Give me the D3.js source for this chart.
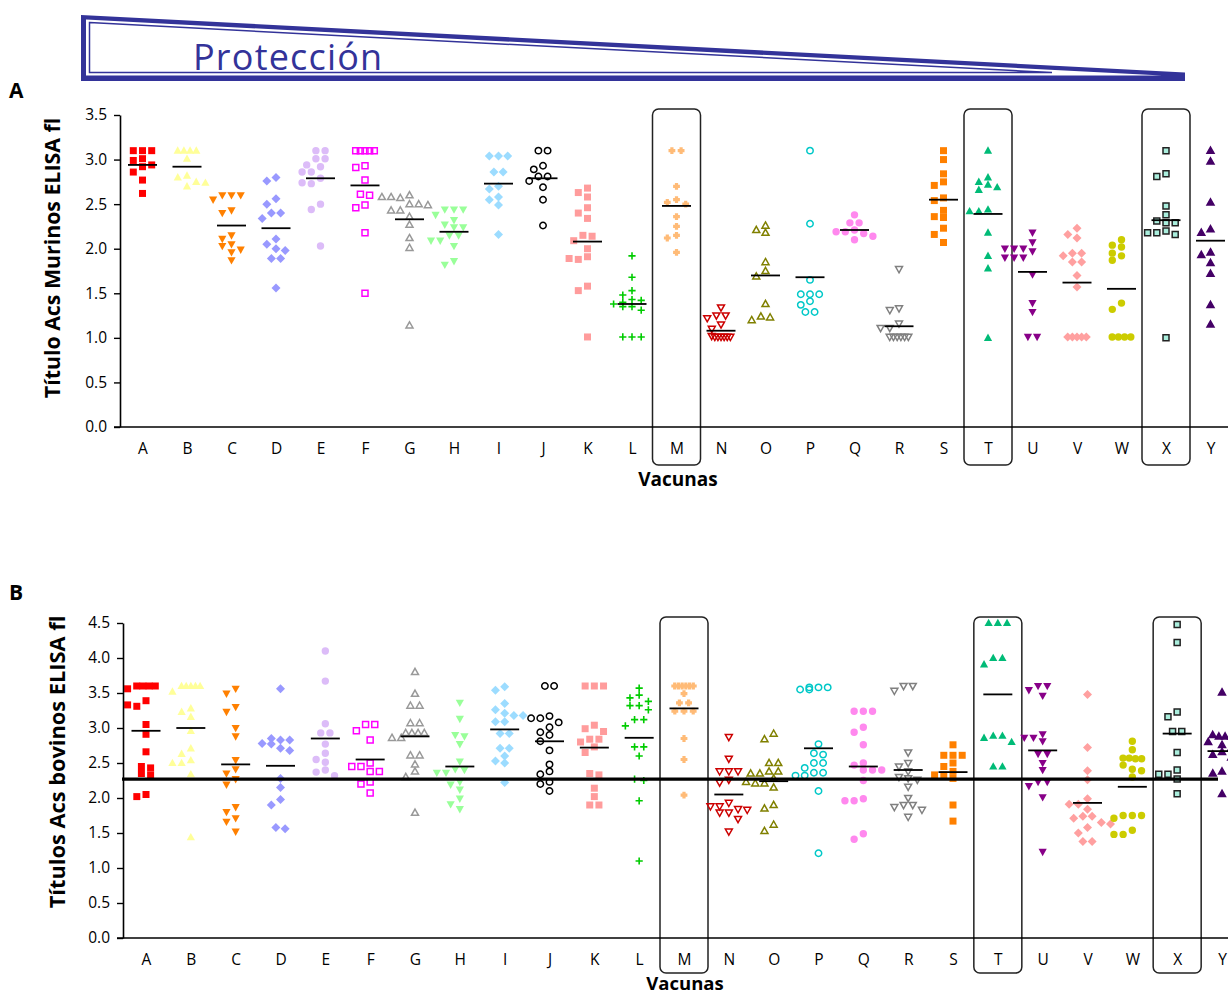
<!DOCTYPE html>
<html>
<head>
<meta charset="utf-8">
<script src="https://cdn.jsdelivr.net/npm/d3@7"></script>
<style>
  body { margin: 0; background: #fff; }
  svg { display: block; }
  text { font-family: "Open Sans", "Noto Sans", sans-serif; }
</style>
</head>
<body>
<svg id="chart" width="1228" height="997"></svg>
<script>
// Vaccine groups along the x axis
const vaccines = "ABCDEFGHIJKLMNOPQRSTUVWXY".split("");
const highlighted = ["M", "T", "X"];

// Panel A: murine antibody titres (ELISA), one array per vaccine
const murineTiters = [
  [3.10,3.10,3.10,3.01,2.99,2.94,2.92,2.86,2.77,2.62],
  [3.10,3.10,3.10,3.10,3.01,2.82,2.80,2.75,2.74,2.70],
  [2.60,2.60,2.60,2.55,2.43,2.40,2.15,2.11,2.05,2.03,1.99,1.96,1.87],
  [2.80,2.76,2.56,2.50,2.40,2.40,2.34,2.11,2.05,2.00,1.98,1.89,1.89,1.56],
  [3.10,3.10,3.01,3.01,2.94,2.92,2.86,2.86,2.79,2.74,2.73,2.50,2.44,2.03],
  [3.10,3.10,3.10,3.10,3.10,2.93,2.91,2.77,2.61,2.60,2.49,2.46,2.18,1.50],
  [2.60,2.58,2.58,2.57,2.50,2.50,2.49,2.43,2.43,2.36,2.27,2.12,2.01,1.14],
  [2.44,2.44,2.44,2.38,2.32,2.27,2.24,2.24,2.15,2.15,2.09,2.09,2.03,1.86,1.82],
  [3.04,3.04,3.04,2.86,2.86,2.70,2.67,2.58,2.55,2.49,2.16],
  [3.10,3.10,2.93,2.89,2.81,2.81,2.76,2.69,2.55,2.26],
  [2.68,2.63,2.58,2.46,2.40,2.34,2.15,2.14,2.09,2.00,1.91,1.89,1.88,1.58,1.53,1.01],
  [1.92,1.68,1.53,1.48,1.43,1.42,1.40,1.38,1.35,1.35,1.31,1.01,1.01,1.01],
  [3.10,3.10,2.70,2.55,2.52,2.50,2.36,2.25,2.15,2.12,1.96],
  [1.34,1.25,1.25,1.22,1.15,1.10,1.02,1.01,1.01,1.01,1.01,1.01,1.01],
  [2.26,2.21,2.18,1.85,1.75,1.69,1.38,1.24,1.23,1.20],
  [3.10,2.28,1.65,1.49,1.49,1.49,1.41,1.37,1.29,1.29],
  [2.38,2.29,2.29,2.21,2.19,2.19,2.17,2.14,2.10],
  [1.77,1.33,1.31,1.16,1.11,1.11,1.01,1.01,1.01,1.01,1.01,1.01],
  [3.10,3.00,2.84,2.75,2.71,2.57,2.54,2.43,2.36,2.35,2.23,2.16,2.07],
  [3.10,2.80,2.75,2.72,2.69,2.66,2.44,2.42,2.42,2.18,1.92,1.78,1.00],
  [2.18,2.07,2.00,2.00,2.00,1.97,1.90,1.90,1.90,1.71,1.39,1.29,1.01,1.01],
  [2.23,2.16,2.12,1.95,1.95,1.92,1.85,1.85,1.70,1.57,1.01,1.01,1.01,1.01,1.01],
  [2.10,2.04,2.02,1.95,1.92,1.87,1.39,1.32,1.01,1.01,1.01,1.01],
  [3.10,2.84,2.81,2.48,2.38,2.31,2.29,2.29,2.20,2.18,2.18,2.16,1.00],
  [3.10,2.98,2.52,2.22,2.18,1.96,1.93,1.84,1.72,1.37,1.15]
];
const murineMeans = [2.94,2.92,2.26,2.23,2.79,2.71,2.33,2.19,2.73,2.79,2.08,1.38,2.48,
                     1.08,1.70,1.68,2.21,1.13,2.55,2.39,1.74,1.62,1.55,2.32,2.09];
const murineTicks = [0, 0.5, 1, 1.5, 2, 2.5, 3, 3.5];

// Panel B: bovine antibody titres (ELISA), one array per vaccine
const bovineTiters = [
  [3.60,3.60,3.60,3.60,3.56,3.39,3.33,3.31,3.05,2.91,2.66,2.45,2.43,2.35,2.33,2.05,2.02],
  [3.60,3.60,3.60,3.60,3.60,3.52,3.28,3.23,3.16,2.96,2.71,2.63,2.54,2.50,2.50,2.34,1.44],
  [3.56,3.49,3.30,3.23,3.00,2.88,2.54,2.41,2.35,2.27,2.19,1.87,1.80,1.71,1.66,1.52],
  [3.56,2.85,2.83,2.83,2.78,2.77,2.71,2.68,2.28,2.15,1.98,1.90,1.58,1.56],
  [4.10,3.67,3.06,2.93,2.93,2.77,2.64,2.55,2.51,2.40,2.37,2.32],
  [3.05,3.05,2.96,2.83,2.50,2.45,2.45,2.38,2.38,2.23,2.20,2.07],
  [3.80,3.49,3.32,3.32,3.07,3.07,2.93,2.93,2.93,2.93,2.86,2.86,2.61,2.61,2.48,2.38,2.30,1.79],
  [3.36,3.13,2.90,2.88,2.77,2.52,2.41,2.40,2.36,2.36,2.23,2.19,2.12,1.99,1.91,1.84],
  [3.59,3.54,3.35,3.26,3.21,3.18,3.18,3.09,3.09,2.92,2.92,2.71,2.71,2.60,2.53,2.50,2.22],
  [3.60,3.60,3.17,3.14,3.14,3.08,3.01,2.94,2.90,2.81,2.68,2.48,2.38,2.34,2.23,2.20,2.10],
  [3.60,3.60,3.60,3.04,2.99,2.95,2.84,2.84,2.80,2.73,2.65,2.35,2.33,2.14,2.02,1.90,1.90],
  [3.57,3.47,3.43,3.38,3.32,3.32,3.26,3.12,3.12,3.03,2.73,2.73,2.60,2.27,2.25,1.96,1.10],
  [3.60,3.60,3.60,3.60,3.60,3.60,3.49,3.36,3.36,3.24,3.24,3.24,2.85,2.55,2.04],
  [2.87,2.56,2.38,2.38,2.38,2.26,2.22,1.93,1.88,1.88,1.84,1.83,1.79,1.79,1.70,1.52],
  [2.92,2.84,2.50,2.50,2.38,2.38,2.35,2.35,2.28,2.23,2.21,2.21,2.15,1.90,1.85,1.62,1.53],
  [3.58,3.58,3.58,3.55,3.55,2.77,2.64,2.62,2.50,2.50,2.43,2.36,2.36,2.32,2.32,2.10,1.21],
  [3.24,3.24,3.24,3.01,2.94,2.76,2.50,2.47,2.40,2.40,2.40,2.25,1.99,1.96,1.96,1.49,1.41],
  [3.60,3.60,3.53,2.65,2.50,2.45,2.38,2.30,2.28,2.26,2.16,2.00,1.90,1.90,1.87,1.83,1.73],
  [2.76,2.61,2.61,2.61,2.50,2.45,2.38,2.33,2.33,2.28,1.90,1.67],
  [4.50,4.50,4.50,4.00,4.00,3.91,2.89,2.89,2.86,2.80,2.45,2.45],
  [3.60,3.60,3.54,3.46,2.91,2.86,2.86,2.81,2.63,2.63,2.50,2.40,2.23,2.23,2.17,2.01,1.23],
  [3.48,2.72,2.39,2.26,1.99,1.91,1.91,1.84,1.74,1.74,1.71,1.65,1.63,1.58,1.50,1.38,1.38],
  [2.81,2.69,2.57,2.57,2.56,2.56,2.47,2.41,2.39,2.30,1.75,1.75,1.75,1.71,1.54,1.48,1.48],
  [4.48,4.22,3.23,3.16,2.95,2.95,2.65,2.40,2.34,2.34,2.27,2.06],
  [3.51,2.90,2.88,2.88,2.88,2.80,2.76,2.71,2.71,2.66,2.62,2.58,2.38,2.35,2.06]
];
const bovineMeans = [2.96,3.00,2.48,2.46,2.85,2.55,2.88,2.45,2.98,2.81,2.72,2.86,3.28,
                     2.05,2.24,2.71,2.45,2.40,2.37,3.48,2.68,1.93,2.16,2.92,2.67];
const bovineTicks = [0, 0.5, 1, 1.5, 2, 2.5, 3, 3.5, 4, 4.5];
const bovineCutoff = 2.27;

// Marker style per vaccine
const markerShapes = ["square","triUp","triDown","diamond","circle","square","triUp","triDown",
  "diamond","circle","square","plus","cross","triDown","triUp","circle","circle","triDown",
  "square","triUp","triDown","diamond","circle","square","triUp"];
const markerColors = ["#ff0000","#ffff99","#ff8000","#9999ff","#dcbcf8","#ff00ff","#999999",
  "#99ff99","#9cdcff","#000000","#ff9c9c","#00cc00","#ffbb77","#cc0000","#808000","#00c8c8",
  "#ff88ee","#808080","#ff8000","#00bb77","#880088","#ffa0a0","#cccc00","#aaeedd","#440066"];
const markerHollow = [false,false,false,false,false,true,true,false,false,true,false,false,
  false,true,true,true,false,true,false,false,false,false,false,false,false];
const markerOutline = [null,null,null,null,null,null,null,null,null,null,null,null,null,null,
  null,null,null,null,null,null,null,null,null,"#222222","#440066"];

const BLUE = "#333399";
const svg = d3.select("#chart");

// ---------- "Protección" banner ----------
const banner = svg.append("g");
banner.append("path").attr("d", "M81,15 L1185,72.5 L1185,81 L81,81 Z").attr("fill", BLUE);
banner.append("path").attr("d", "M86,19.6 L1162,75.6 L86,75.6 Z").attr("fill", "#fff");
banner.append("path").attr("d", "M89.5,22.6 L1052,72.5 L89.5,72.5 Z")
  .attr("fill", "none").attr("stroke", BLUE).attr("stroke-width", 1.5);
banner.append("text").attr("x", 193).attr("y", 70).attr("fill", BLUE)
  .attr("font-size", 36).attr("letter-spacing", 1.2).text("Protección");

// ---------- marker geometry ----------
function markerPath(kind) {
  switch (kind) {
    case "square": return "M-3.5,-3.5H3.5V3.5H-3.5Z";
    case "triUp": return "M0,-4.3L4.1,3.1L-4.1,3.1Z";
    case "triDown": return "M0,4.3L4.1,-3.1L-4.1,-3.1Z";
    case "diamond": return "M0,-4.5L4.5,0L0,4.5L-4.5,0Z";
    case "circle": return "M3.7,0A3.7,3.7 0 1,1 -3.7,0A3.7,3.7 0 1,1 3.7,0Z";
    case "plus": return "M-3.6,0H3.6M0,-3.6V3.6";
    case "cross": return "M-3.4,0H3.4M0,-3.4V3.4";
  }
}
function hollowPath(kind) {
  switch (kind) {
    case "square": return "M-3,-3H3V3H-3Z";
    case "triUp": return "M0,-3.6L3.5,2.6L-3.5,2.6Z";
    case "triDown": return "M0,3.6L3.5,-2.6L-3.5,-2.6Z";
    case "circle": return "M3.2,0A3.2,3.2 0 1,1 -3.2,0A3.2,3.2 0 1,1 3.2,0Z";
  }
  return markerPath(kind);
}

// Column dot-plot layout: equal values form a row, rows slide sideways to avoid overlap
function swarm(values, y, step, maxHalf) {
  const pts = values.map(v => ({ v, py: y(v) })).sort((a, b) => a.py - b.py);
  const rows = [];
  pts.forEach(p => {
    const r = rows[rows.length - 1];
    if (r && Math.abs(p.py - r[0].py) < 1.5) r.push(p); else rows.push([p]);
  });
  const placed = [];
  const shifts = [0, -0.5, 0.5, -1, 1, -1.5, 1.5, -2, 2];
  rows.forEach(row => {
    const n = row.length;
    const sp = n > 1 ? Math.min(step, 2 * maxHalf / (n - 1)) : 0;
    let best = null, bestHits = Infinity;
    for (const c of shifts) {
      const xs = row.map((p, i) => c * step + (i - (n - 1) / 2) * sp);
      let hits = 0;
      xs.forEach((xx, i) => {
        hits += placed.filter(q => Math.abs(q.py - row[i].py) < 6.8 &&
                                   Math.abs(q.dx - xx) < step * 0.85).length;
      });
      if (hits < bestHits) { best = xs; bestHits = hits; }
      if (hits === 0) break;
    }
    row.forEach((p, i) => { p.dx = best[i]; placed.push(p); });
  });
  return placed;
}

// ---------- one dot-plot panel ----------
function drawPanel(o) {
  const g = svg.append("g");
  const x = d3.scalePoint().domain(vaccines).range(o.xRange);
  const y = d3.scaleLinear().domain(o.yDomain).range(o.yRange);

  // boxes around the highlighted vaccines
  g.selectAll("rect.hl").data(highlighted).join("rect")
    .attr("x", d => x(d) - 24).attr("y", o.boxTop)
    .attr("width", 48).attr("height", o.boxBottom - o.boxTop)
    .attr("rx", 6).attr("ry", 6)
    .attr("fill", "none").attr("stroke", "#222").attr("stroke-width", 1.5);

  // individual animals
  vaccines.forEach((v, i) => {
    const pts = swarm(o.values[i], y, 9.2, 9.3);
    const kind = markerShapes[i];
    const col = markerColors[i];
    const hollow = markerHollow[i];
    const outline = markerOutline[i];
    const sel = g.append("g").selectAll("path").data(pts).join("path")
      .attr("transform", p => `translate(${x(v) + p.dx},${y(p.v)})`);
    if (kind === "plus" || kind === "cross") {
      sel.attr("d", markerPath(kind)).attr("fill", "none").attr("stroke", col)
        .attr("stroke-width", kind === "cross" ? 3.2 : 1.6);
    } else if (hollow) {
      sel.attr("d", hollowPath(kind)).attr("fill", "none").attr("stroke", col)
        .attr("stroke-width", 1.5);
    } else if (outline) {
      sel.attr("d", hollowPath(kind)).attr("fill", col).attr("stroke", outline)
        .attr("stroke-width", 1.5);
    } else {
      sel.attr("d", markerPath(kind)).attr("fill", col);
    }
  });

  // group means
  g.selectAll("line.mean").data(vaccines).join("line")
    .attr("x1", d => x(d) - 14.5).attr("x2", d => x(d) + 14.5)
    .attr("y1", (d, i) => y(o.means[i])).attr("y2", (d, i) => y(o.means[i]))
    .attr("stroke", "#000").attr("stroke-width", 1.8);

  // y axis
  const yAxis = g.append("g").attr("transform", `translate(${o.axisX},0)`)
    .call(d3.axisLeft(y).tickValues(o.ticks).tickFormat(d3.format(".1f"))
      .tickSize(6).tickSizeOuter(0).tickPadding(7));
  yAxis.select(".domain").attr("stroke-width", 1.6);
  yAxis.selectAll(".tick line").attr("stroke-width", 1.4);
  yAxis.selectAll("text").attr("font-size", 15.5).attr("font-family", "Open Sans").attr("fill", "#000");

  // x axis
  g.append("line").attr("x1", o.axisX - 6).attr("x2", 1228)
    .attr("y1", o.yRange[0]).attr("y2", o.yRange[0])
    .attr("stroke", "#000").attr("stroke-width", 1.6);
  const xAxis = g.append("g").attr("transform", `translate(0,${o.yRange[0]})`)
    .call(d3.axisBottom(x).tickSize(0).tickPadding(16));
  xAxis.select(".domain").remove();
  xAxis.selectAll("text").attr("font-size", 15.5).attr("font-family", "Open Sans").attr("fill", "#000");

  // titles
  g.append("text")
    .attr("transform", `translate(${o.titleX},${o.titleY}) rotate(-90)`)
    .attr("text-anchor", "middle").attr("font-weight", "bold").attr("font-size", o.titleSize)
    .text(o.yTitle);
  g.append("text").attr("x", o.xTitleX).attr("y", o.xTitleY)
    .attr("text-anchor", "middle").attr("font-weight", "bold").attr("font-size", o.xTitleSize)
    .text("Vacunas");
  g.append("text").attr("x", 9).attr("y", o.letterY)
    .attr("font-weight", "bold").attr("font-size", 21).text(o.letter);

  return { x, y, g };
}

drawPanel({
  values: murineTiters, means: murineMeans, ticks: murineTicks,
  xRange: [142.5, 1210.5], yDomain: [0, 3.5], yRange: [427, 115],
  axisX: 120, boxTop: 109, boxBottom: 465,
  yTitle: "Título Acs Murinos ELISA fl", titleX: 59.5, titleY: 258, titleSize: 21.3,
  xTitleX: 678, xTitleY: 486, xTitleSize: 19, letter: "A", letterY: 98
});

const pB = drawPanel({
  values: bovineTiters, means: bovineMeans, ticks: bovineTicks,
  xRange: [146, 1222], yDomain: [0, 4.5], yRange: [938, 623],
  axisX: 123, boxTop: 617, boxBottom: 973,
  yTitle: "Títulos Acs bovinos ELISA fl", titleX: 64.5, titleY: 762, titleSize: 21.8,
  xTitleX: 685, xTitleY: 990, xTitleSize: 18.5, letter: "B", letterY: 600
});

// protective cut-off for the bovine titres
pB.g.append("line").attr("x1", 122).attr("x2", 1218)
  .attr("y1", pB.y(bovineCutoff)).attr("y2", pB.y(bovineCutoff))
  .attr("stroke", "#000").attr("stroke-width", 3.2);
</script>
</body>
</html>
